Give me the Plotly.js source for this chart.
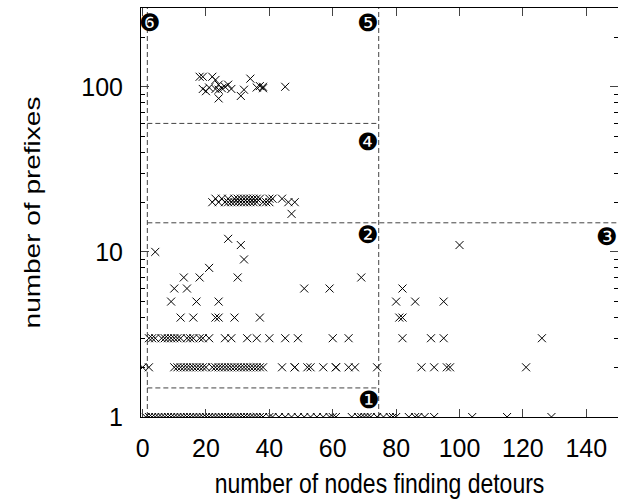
<!DOCTYPE html>
<html>
<head>
<meta charset="utf-8">
<script src="https://cdn.plot.ly/plotly-3.0.1.min.js"></script>
<style>html,body{margin:0;padding:0;background:#fff;}#chart{width:618px;height:504px;}</style>
</head>
<body>
<div id="chart"></div>
<script>
// x = number of nodes finding detours, grouped by number of prefixes (y)
const row1 = [1,2,3,4,5,6,7,8,9,10,11,12,13,14,15,16,17,18,19,20,21,22,23,24,25,26,27,28,29,30,31,32,33,34,35,36,37,38,40,41,43,45,47,49,51,53,55,57,59,60,61,66,68,69,70,71,72,74,76,78,79,80,84,86,87,89,92,104,115,129];
const row2 = [0,2,10,11,12,13,14,15,16,17,18,19,20,22,23,24,25,26,27,28,29,30,31,32,33,34,35,36,37,38,44,48,48,52,53,57,61,61,65,67,74,88,92,96,97,121];
const row3 = [2,3,4,6,7,8,9,10,11,12,14,15,16,18,19,21,26,28,33,36,40,45,49,60,65,82,91,95,126];
const row4 = [12,16,23,24,29,37,81,82];
const row5 = [9,17,24,80,86,95];
const row6 = [10,14,51,59,82];
const row7 = [13,18,30,69];
const row8 = [21];
const row9 = [32];
const row10 = [4];
const row11 = [31,100];
const row12 = [27];
const row17 = [47];
const row20 = [22,24,26,27,28,29,30,31,32,33,34,35,36,38,39,40,46,48];
const row21 = [23,25,27,29,30,31,32,33,34,35,36,37,40,41,44];
const topX = [18,19,22,19,20,23,24,23,24,25,26,27,24,31,32,34,36,37,38,38,45,21,28];
const topY = [115,115,115,97,94,110,103,97,96,98,100,103,85,88,96,112,99,101,100,98,100,99,97];

// region boundaries (dashed lines)
const splitX = [1.5, 74.5];
const splitY = [1.5, 15, 60];
const regionLabels = ['❶','❷','❸','❹','❺','❻'];

const rows = [[1,row1],[2,row2],[3,row3],[4,row4],[5,row5],[6,row6],[7,row7],[8,row8],[9,row9],[10,row10],[11,row11],[12,row12],[17,row17],[20,row20],[21,row21]];
const xs = [], ys = [];
rows.forEach(([y, arr]) => arr.forEach(x => { xs.push(x); ys.push(y); }));
topX.forEach((x, i) => { xs.push(x); ys.push(topY[i]); });

const dashLine = {color:'#444', width:1, dash:'5px,3px'};
const traces = [
  {x:[splitX[0],splitX[0]], y:[1,300], mode:'lines', line:dashLine, hoverinfo:'skip'},
  {x:[splitX[1],splitX[1]], y:[1,300], mode:'lines', line:dashLine, hoverinfo:'skip'},
  {x:[splitX[0],splitX[1]], y:[splitY[0],splitY[0]], mode:'lines', line:dashLine, hoverinfo:'skip'},
  {x:[splitX[0],150], y:[splitY[1],splitY[1]], mode:'lines', line:dashLine, hoverinfo:'skip'},
  {x:[splitX[0],splitX[1]], y:[splitY[2],splitY[2]], mode:'lines', line:dashLine, hoverinfo:'skip'},
  {x:xs, y:ys, mode:'markers', type:'scatter',
   marker:{symbol:'x-thin', size:8, color:'#000', line:{color:'#000', width:1}}}
];

const labelPos = [[0.478,0.042],[0.4765,0.445],[0.976,0.441],[0.4765,0.673],[0.4765,0.963],[0.019,0.963]];
const annotations = regionLabels.map((t, i) => ({
  text:t, xref:'paper', yref:'paper', x:labelPos[i][0], y:labelPos[i][1],
  xanchor:'center', yanchor:'middle', showarrow:false,
  font:{family:'DejaVu Sans', size:24, color:'#000'}
}));

const tickFont = {family:'Liberation Sans, Arial, sans-serif', size:25, color:'#000'};
const xTitleFont = {family:'Liberation Sans, Arial, sans-serif', size:23, color:'#000'};
const yTitleFont = {family:'Liberation Sans, Arial, sans-serif', size:28, color:'#000'};
const layout = {
  width:618, height:504,
  margin:{l:141, r:0, t:8, b:87},
  paper_bgcolor:'#fff', plot_bgcolor:'#fff',
  showlegend:false,
  font:tickFont,
  xaxis:{range:[-0.5,150], tickvals:[0,20,40,60,80,100,120,140], ticks:'inside', ticklen:8,
         showline:true, linecolor:'#000', linewidth:1, mirror:'ticks', showgrid:false, zeroline:false,
         tickfont:tickFont, ticklabelstandoff:9,
         title:{text:'number of nodes finding detours', font:xTitleFont, standoff:14}},
  yaxis:{type:'log', range:[0, Math.log10(300)], tickvals:[1,10,100], ticktext:['1','10','100'],
         ticks:'inside', ticklen:8, showline:true, linecolor:'#000', linewidth:1, mirror:'ticks',
         showgrid:false, zeroline:false, tickfont:tickFont, ticklabelstandoff:12,
         minor:{ticks:'inside', ticklen:4, dtick:'D1', showgrid:false, tickcolor:'#000'},
         title:{text:'number of prefixes', font:yTitleFont, standoff:30}},
  annotations:annotations
};

// the original lettering of the axis titles is taller than it is wide
function stretchTitle(sel, sx, sy) {
  const el = document.querySelector(sel);
  if (!el) return;
  const r = el.getBoundingClientRect();
  const cx = r.left + r.width / 2, cy = r.top + r.height / 2;
  const prev = el.getAttribute('transform') || '';
  el.setAttribute('transform', `translate(${cx},${cy}) scale(${sx},${sy}) translate(${-cx},${-cy}) ${prev}`);
}
Plotly.newPlot('chart', traces, layout, {staticPlot:true, displayModeBar:false}).then(() => {
  stretchTitle('.xtitle', 1, 1.2);
  stretchTitle('.ytitle', 0.82, 1);
});
</script>
</body>
</html>
